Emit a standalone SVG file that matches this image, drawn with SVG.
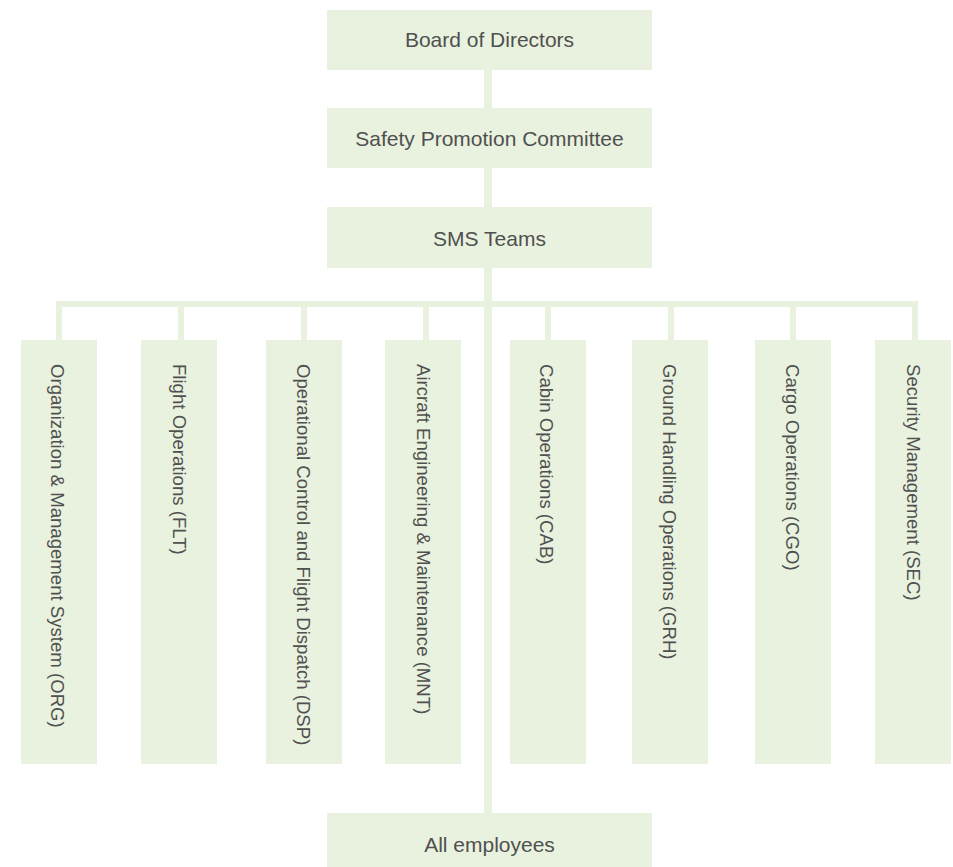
<svg xmlns="http://www.w3.org/2000/svg" width="953" height="867" viewBox="0 0 953 867">
  <style>
    .box { fill: #e9f2de; }
    .link { stroke: #e9f2de; fill: none; }
    .trunk { stroke-width: 8; }
    .branch { stroke-width: 6; }
    .label { font-family: "Liberation Sans", Arial, sans-serif; fill: #505050; }
    .h { font-size: 21px; text-anchor: middle; }
    .v { font-size: 18.6px; text-anchor: start; }
  </style>

  <!-- connectors -->
  <g id="connectors">
    <line class="link trunk" x1="488" y1="70" x2="488" y2="813"/>
    <line class="link branch" x1="56" y1="304" x2="918" y2="304"/>
    <line class="link branch" x1="59" y1="304" x2="59" y2="340"/>
    <line class="link branch" x1="181" y1="304" x2="181" y2="340"/>
    <line class="link branch" x1="304" y1="304" x2="304" y2="340"/>
    <line class="link branch" x1="426" y1="304" x2="426" y2="340"/>
    <line class="link branch" x1="548" y1="304" x2="548" y2="340"/>
    <line class="link branch" x1="671" y1="304" x2="671" y2="340"/>
    <line class="link branch" x1="793" y1="304" x2="793" y2="340"/>
    <line class="link branch" x1="915" y1="304" x2="915" y2="340"/>
  </g>

  <!-- top chain -->
  <g id="board">
    <rect class="box" x="327" y="10" width="325" height="60"/>
    <text class="label h" x="489.5" y="47">Board of Directors</text>
  </g>
  <g id="safety-committee">
    <rect class="box" x="327" y="108" width="325" height="60"/>
    <text class="label h" x="489.5" y="146">Safety Promotion Committee</text>
  </g>
  <g id="sms-teams">
    <rect class="box" x="327" y="207" width="325" height="61"/>
    <text class="label h" x="489.5" y="245.5">SMS Teams</text>
  </g>

  <!-- departments (vertical labels) -->
  <g id="org">
    <rect class="box" x="21" y="340" width="76" height="424"/>
    <text class="label v" transform="translate(51 364) rotate(90)">Organization &amp; Management System (ORG)</text>
  </g>
  <g id="flt">
    <rect class="box" x="141" y="340" width="76" height="424"/>
    <text class="label v" transform="translate(173 364) rotate(90)">Flight Operations (FLT)</text>
  </g>
  <g id="dsp">
    <rect class="box" x="266" y="340" width="76" height="424"/>
    <text class="label v" transform="translate(297 364) rotate(90)">Operational Control and Flight Dispatch (DSP)</text>
  </g>
  <g id="mnt">
    <rect class="box" x="385" y="340" width="76" height="424"/>
    <text class="label v" transform="translate(417 364) rotate(90)">Aircraft Engineering &amp; Maintenance (MNT)</text>
  </g>
  <g id="cab">
    <rect class="box" x="510" y="340" width="76" height="424"/>
    <text class="label v" transform="translate(540 364) rotate(90)">Cabin Operations (CAB)</text>
  </g>
  <g id="grh">
    <rect class="box" x="632" y="340" width="76" height="424"/>
    <text class="label v" transform="translate(663 364) rotate(90)">Ground Handling Operations (GRH)</text>
  </g>
  <g id="cgo">
    <rect class="box" x="755" y="340" width="76" height="424"/>
    <text class="label v" transform="translate(786 364) rotate(90)">Cargo Operations (CGO)</text>
  </g>
  <g id="sec">
    <rect class="box" x="875" y="340" width="76" height="424"/>
    <text class="label v" transform="translate(907 364) rotate(90)">Security Management (SEC)</text>
  </g>

  <!-- bottom -->
  <g id="all-employees">
    <rect class="box" x="327" y="813" width="325" height="54"/>
    <text class="label h" x="489.5" y="852">All employees</text>
  </g>
</svg>
